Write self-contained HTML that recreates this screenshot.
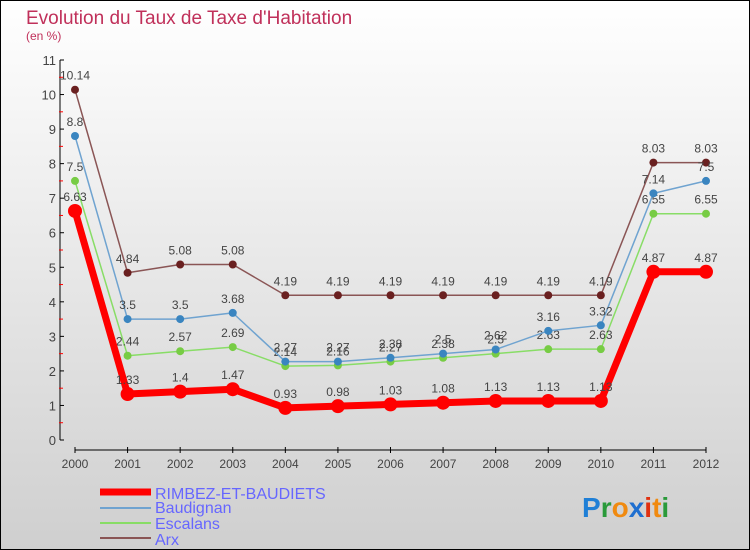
<!DOCTYPE html>
<html><head><meta charset="utf-8"><style>
body{margin:0;}
svg{display:block;font-family:"Liberation Sans",sans-serif;}
</style></head><body>
<svg id="c" width="750" height="550">
<defs><linearGradient id="bg" x1="0" y1="0" x2="0" y2="1"><stop offset="0" stop-color="#ffffff"/><stop offset="1" stop-color="#cfcfcf"/></linearGradient></defs>
<rect x="0.5" y="0.5" width="749" height="549" fill="url(#bg)" stroke="#000"/>
<text x="26" y="24" font-size="19" fill="#c0305a">Evolution du Taux de Taxe d'Habitation</text>
<text x="26" y="40" font-size="12" fill="#c0305a">(en %)</text>
<g id="axes"></g><g id="series"></g>
<g>
<line x1="100" y1="492" x2="151" y2="492" stroke="#f00" stroke-width="7"/>
<text x="155" y="499" font-size="16" fill="#6666ff">RIMBEZ-ET-BAUDIETS</text>
<line x1="100" y1="508" x2="151" y2="508" stroke="#6fa3d0" stroke-width="2"/>
<text x="155" y="513" font-size="16" fill="#6666ff">Baudignan</text>
<line x1="100" y1="523" x2="151" y2="523" stroke="#88dd66" stroke-width="2"/>
<text x="155" y="529" font-size="16" fill="#6666ff">Escalans</text>
<line x1="100" y1="538" x2="151" y2="538" stroke="#8a5555" stroke-width="2"/>
<text x="155" y="545" font-size="16" fill="#6666ff">Arx</text>
</g>
<g font-size="28" font-weight="bold">
<text x="582" y="517"><tspan fill="#1f7fd6">P</tspan><tspan fill="#2a9a3a">r</tspan><tspan fill="#f08a10">o</tspan><tspan fill="#1f6fd0">x</tspan><tspan fill="#e03010">i</tspan><tspan fill="#f08a10">t</tspan><tspan fill="#2a9a3a">i</tspan></text>
</g>
</svg>
<script>
const years=["2000","2001","2002","2003","2004","2005","2006","2007","2008","2009","2010","2011","2012"];
const rimbez=[6.63,1.33,1.4,1.47,0.93,0.98,1.03,1.08,1.13,1.13,1.13,4.87,4.87];
const baudignan=[8.8,3.5,3.5,3.68,2.27,2.27,2.38,2.5,2.62,3.16,3.32,7.14,7.5];
const escalans=[7.5,2.44,2.57,2.69,2.14,2.16,2.27,2.38,2.5,2.63,2.63,6.55,6.55];
const arx=[10.14,4.84,5.08,5.08,4.19,4.19,4.19,4.19,4.19,4.19,4.19,8.03,8.03];
const yTicks=[0,1,2,3,4,5,6,7,8,9,10,11];
const NS="http://www.w3.org/2000/svg";
const x=i=>75+i*(706-75)/(years.length-1);
const y=v=>440-v*(380/11);
function mk(tag,attrs,parent){const e=document.createElementNS(NS,tag);for(const k in attrs)e.setAttribute(k,attrs[k]);parent.appendChild(e);return e;}
const ax=document.getElementById('axes');
let l=mk('line',{x1:60,y1:y(11),x2:60,y2:y(0),stroke:'#000'},ax);


l=mk('line',{x1:75,y1:450,x2:706,y2:450,stroke:'#000'},ax);


yTicks.forEach(v=>{
 mk('line',{x1:60,y1:y(v),x2:64,y2:y(v),stroke:'#000'},ax);
 if(v<11) mk('line',{x1:59,y1:y(v+0.5),x2:63,y2:y(v+0.5),stroke:'#f00'},ax);
 const t=mk('text',{x:56,y:y(v)+5,'font-size':13,fill:'#444','text-anchor':'end'},ax);
 t.textContent=v;
 
 
});
years.forEach((yr,i)=>{
 mk('line',{x1:x(i),y1:447,x2:x(i),y2:453,stroke:'#000'},ax);
 const t=mk('text',{x:x(i),y:468,'font-size':12,fill:'#444','text-anchor':'middle'},ax);
 t.textContent=yr;
 
 
});
const sg=document.getElementById('series');
function draw(vals,name,color,dot,w,r){
 const g=mk('g',{},sg);
 
 
 const p=mk('polyline',{points:vals.map((v,i)=>x(i)+','+y(v)).join(' '),fill:'none',stroke:color,'stroke-width':w,'stroke-linejoin':'round'},g);
 
 
 vals.forEach((v,i)=>{
  const c=mk('circle',{cx:x(i),cy:y(v),r:r,fill:dot},g);
  
  
  const t=mk('text',{x:x(i),y:y(v)-10,'font-size':12,fill:'#444','text-anchor':'middle'},g);
  t.textContent=v;
  
  
 });
}
draw(arx,'arx','#8a5555','#6a2020',1.5,4);
draw(escalans,'escalans','#88dd66','#77cc44',1.5,4);
draw(baudignan,'baudignan','#6fa3d0','#3a85c0',1.5,4);
draw(rimbez,'rimbez','#f00','#f00',7,7);
</script>
</body></html>
